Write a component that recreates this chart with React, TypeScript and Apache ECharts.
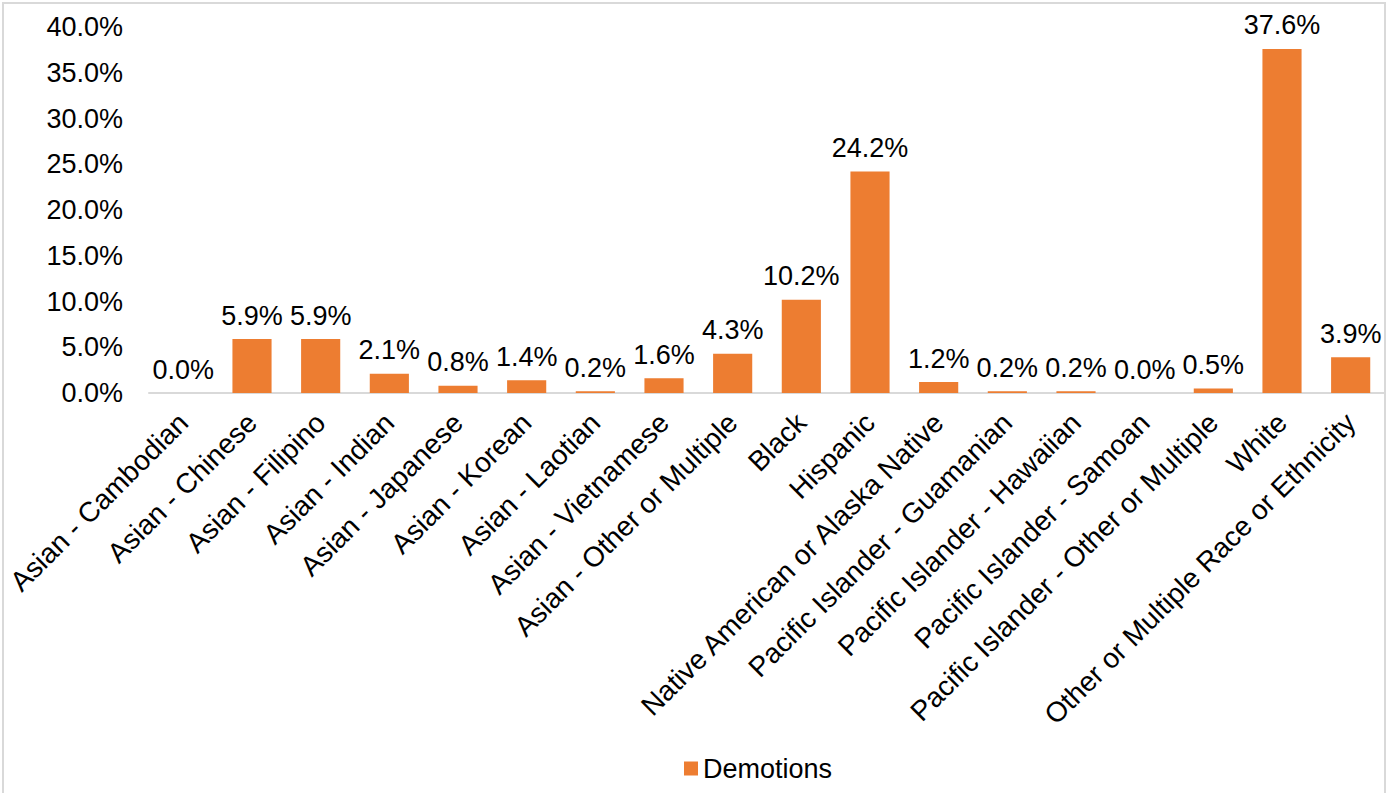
import React, { useEffect, useRef } from "react";
import * as echarts from "echarts";

const categories = [
  "Asian - Cambodian",
  "Asian - Chinese",
  "Asian - Filipino",
  "Asian - Indian",
  "Asian - Japanese",
  "Asian - Korean",
  "Asian - Laotian",
  "Asian - Vietnamese",
  "Asian - Other or Multiple",
  "Black",
  "Hispanic",
  "Native American or Alaska Native",
  "Pacific Islander - Guamanian",
  "Pacific Islander - Hawaiian",
  "Pacific Islander - Samoan",
  "Pacific Islander - Other or Multiple",
  "White",
  "Other or Multiple Race or Ethnicity",
];

const demotions = [0.0, 5.9, 5.9, 2.1, 0.8, 1.4, 0.2, 1.6, 4.3, 10.2, 24.2, 1.2, 0.2, 0.2, 0.0, 0.5, 37.6, 3.9];

const seriesName = "Demotions";
const FONT = "'Liberation Sans', Arial, sans-serif";

export default function App() {
  const ref = useRef<HTMLDivElement>(null);
  useEffect(() => {
    if (!ref.current) return;
    const chart = echarts.init(ref.current, null, { renderer: "svg" });
    chart.setOption({
      animation: false,
      backgroundColor: "#ffffff",
      textStyle: { fontFamily: FONT },
      graphic: [
        {
          type: "rect",
          shape: { x: 3, y: 3, width: 1382, height: 800 },
          style: { fill: "none", stroke: "#d9d9d9", lineWidth: 2 },
          silent: true,
        },
      ],
      grid: { left: 149, right: 4, top: 27, bottom: 400, containLabel: false },
      legend: {
        data: [seriesName],
        left: 679,
        top: 750,
        itemWidth: 14,
        itemHeight: 14,
        icon: "rect",
        textStyle: { fontSize: 27, color: "#000", fontFamily: FONT },
      },
      xAxis: {
        type: "category",
        data: categories,
        axisLine: { lineStyle: { color: "#d9d9d9", width: 2 } },
        axisTick: { show: false },
        axisLabel: {
          interval: 0,
          rotate: 45,
          fontSize: 28,
          color: "#000",
          margin: 25,
          fontFamily: FONT,
        },
      },
      yAxis: {
        type: "value",
        min: 0,
        max: 40,
        interval: 5,
        splitLine: { show: false },
        axisLine: { show: false },
        axisTick: { show: false },
        axisLabel: {
          fontSize: 27,
          color: "#000",
          margin: 26,
          fontFamily: FONT,
          formatter: (v: number) => v.toFixed(1) + "%",
        },
      },
      series: [
        {
          name: seriesName,
          type: "bar",
          data: demotions,
          barWidth: "57%",
          itemStyle: { color: "#ED7D31" },
          label: {
            show: true,
            position: "top",
            distance: 10,
            fontSize: 27,
            color: "#000",
            fontFamily: FONT,
            formatter: (p: any) => Number(p.value).toFixed(1) + "%",
          },
        },
      ],
    });
    return () => chart.dispose();
  }, []);
  return (
    <div
      ref={ref}
      style={{ position: "fixed", left: 0, top: 0, width: 1389, height: 793 }}
    />
  );
}
